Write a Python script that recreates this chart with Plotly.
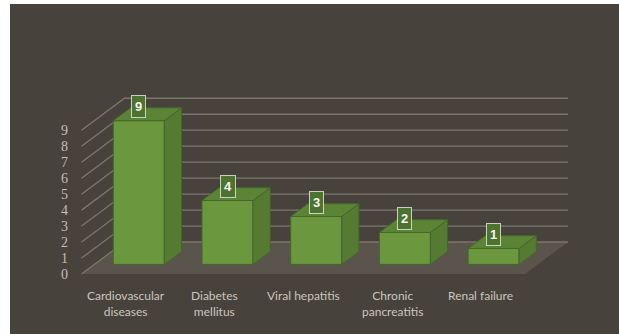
import plotly.graph_objects as go

# ---- data ----
categories = ["Cardiovascular<br>diseases", "Diabetes<br>mellitus", "Viral hepatitis",
              "Chronic<br>pancreatitis", "Renal failure"]
values = [9, 4, 3, 2, 1]
tick_values = list(range(0, 10))

# ---- pseudo-3D geometry (category / value units) ----
PX_PER_CAT = 88.7           # pixels per category step
PX_PER_VAL = 15.97          # pixels per value unit
ORIGIN_PX = (125.9, 274.0)  # pixel of (category 0, value 0) on the floor front edge
W, H = 619, 334
ML, MT = 10, 4

DEPTH_PX = (43.0, 32.0)     # pixel offset from floor front to floor back
DX = DEPTH_PX[0] / PX_PER_CAT
DY = DEPTH_PX[1] / PX_PER_VAL
HALF_W = 0.2875             # half bar width (category units)
D_FRONT, D_BACK = 0.3, 0.7  # bar depth span (fraction of floor depth)
X_LO, X_HI = -0.5, len(categories) - 0.5
V_MAX = max(tick_values)


def pt(i, v, d):
    return i + d * DX, v + d * DY


def poly(corners):
    xs, ys = zip(*[pt(*c) for c in corners])
    return list(xs) + [xs[0]], list(ys) + [ys[0]]


BG = "#47423b"
GRID = "#7d766e"
FLOOR = "#5b544d"
FRONT = "#6b983f"
SIDE = "#557b33"
TOP = "#5c8437"
EDGE = "#45672a"

fig = go.Figure()

# floor
fx, fy = poly([(X_LO, 0, 0), (X_HI, 0, 0), (X_HI, 0, 1), (X_LO, 0, 1)])
fig.add_trace(go.Scatter(x=fx, y=fy, fill="toself", fillcolor=FLOOR, mode="lines",
                         line=dict(width=0), hoverinfo="skip", showlegend=False))

# side-wall diagonals and back-wall gridlines
gx, gy = [], []
for v in tick_values:
    for c in [(X_LO, v, 0), (X_LO, v, 1), (X_HI, v, 1)]:
        x, y = pt(*c)
        gx.append(x)
        gy.append(y)
    gx.append(None)
    gy.append(None)
fig.add_trace(go.Scatter(x=gx, y=gy, mode="lines", line=dict(color=GRID, width=1.3),
                         hoverinfo="skip", showlegend=False))

# bars
for i, v in enumerate(values):
    l, r = i - HALF_W, i + HALF_W
    faces = [
        ([(l, 0, D_FRONT), (r, 0, D_FRONT), (r, v, D_FRONT), (l, v, D_FRONT)], FRONT),
        ([(r, 0, D_FRONT), (r, 0, D_BACK), (r, v, D_BACK), (r, v, D_FRONT)], SIDE),
        ([(l, v, D_FRONT), (r, v, D_FRONT), (r, v, D_BACK), (l, v, D_BACK)], TOP),
    ]
    for corners, col in faces:
        px, py = poly(corners)
        fig.add_trace(go.Scatter(x=px, y=py, fill="toself", fillcolor=col, mode="lines",
                                 line=dict(color=EDGE, width=1), hoverinfo="skip",
                                 showlegend=False))

annotations = []
# value labels
for i, v in enumerate(values):
    x, y = pt(i, v, D_FRONT)
    annotations.append(dict(x=x, y=y, text=f"<b>{v}</b>", showarrow=False, yshift=14,
                            font=dict(family="Liberation Sans", size=13, color="#f4f4ee"),
                            bgcolor="#4e7230", bordercolor="rgba(225,228,210,0.85)",
                            borderwidth=1, borderpad=3))
# value axis labels
for v in tick_values:
    x, y = pt(X_LO, v, 0)
    annotations.append(dict(x=x, y=y, text=str(v), showarrow=False, xanchor="right",
                            xshift=-12, font=dict(family="Liberation Serif", size=14,
                                                  color="#c4bfb8")))
# category labels
for i, name in enumerate(categories):
    x, y = pt(i, 0, 0)
    annotations.append(dict(x=x, y=y, text=name, showarrow=False, yanchor="top",
                            yshift=-12, font=dict(family="Lato", size=12, color="#cbc6bf")))

fig.update_layout(
    width=W, height=H,
    margin=dict(l=ML, r=0, t=MT, b=0),
    paper_bgcolor="#ffffff",
    plot_bgcolor=BG,
    xaxis=dict(range=[(ML - ORIGIN_PX[0]) / PX_PER_CAT, (W - ORIGIN_PX[0]) / PX_PER_CAT],
               visible=False, fixedrange=True),
    yaxis=dict(range=[(ORIGIN_PX[1] - H) / PX_PER_VAL, (ORIGIN_PX[1] - MT) / PX_PER_VAL],
               visible=False, fixedrange=True),
    annotations=annotations,
    showlegend=False,
)

fig.write_html("out.html")
